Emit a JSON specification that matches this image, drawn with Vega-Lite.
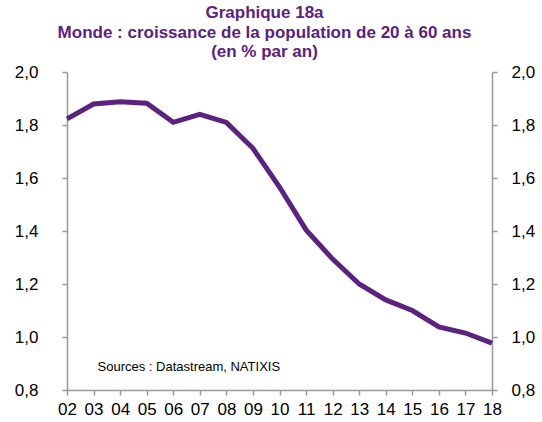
{
  "$schema": "https://vega.github.io/schema/vega-lite/v6.json",
  "width": 425,
  "height": 318,
  "autosize": "none",
  "padding": {"left": 67, "top": 72, "right": 50, "bottom": 32},
  "background": "white",
  "title": {
    "text": ["Graphique 18a", "Monde : croissance de la population de 20 à 60 ans", "(en % par an)"],
    "font": "Liberation Sans",
    "fontSize": 17,
    "fontWeight": "bold",
    "color": "#5B2280",
    "lineHeight": 19.5,
    "anchor": "middle",
    "dx": -15,
    "offset": 2
  },
  "config": {
    "view": {"stroke": null},
    "axis": {
      "grid": false,
      "domainColor": "#9a9a9a",
      "tickColor": "#9a9a9a",
      "domainWidth": 1.5,
      "tickWidth": 1.5,
      "tickSize": 5,
      "labelFont": "Liberation Sans",
      "labelFontSize": 17,
      "labelColor": "#000000",
      "title": null
    }
  },
  "data": {
    "values": [
      {"year": 2, "value": 1.823},
      {"year": 3, "value": 1.879},
      {"year": 4, "value": 1.888},
      {"year": 5, "value": 1.882},
      {"year": 6, "value": 1.810},
      {"year": 7, "value": 1.840},
      {"year": 8, "value": 1.810},
      {"year": 9, "value": 1.712},
      {"year": 10, "value": 1.566},
      {"year": 11, "value": 1.404},
      {"year": 12, "value": 1.294},
      {"year": 13, "value": 1.200},
      {"year": 14, "value": 1.140},
      {"year": 15, "value": 1.100},
      {"year": 16, "value": 1.038},
      {"year": 17, "value": 1.015},
      {"year": 18, "value": 0.977}
    ]
  },
  "encoding": {
    "x": {
      "field": "year", "type": "quantitative",
      "scale": {"domain": [2, 18], "nice": false, "zero": false},
      "axis": {
        "values": [2,3,4,5,6,7,8,9,10,11,12,13,14,15,16,17,18],
        "labelExpr": "datum.value < 10 ? '0' + datum.value : '' + datum.value",
        "labelPadding": 6,
        "labelFlush": false,
        "labelOverlap": false
      }
    }
  },
  "layer": [
    {
      "mark": {"type": "line", "color": "#5B2280", "strokeWidth": 5},
      "encoding": {
        "y": {
          "field": "value", "type": "quantitative",
          "scale": {"domain": [0.8, 2.0], "nice": false, "zero": false},
          "axis": {
            "orient": "left",
            "values": [0.8, 1.0, 1.2, 1.4, 1.6, 1.8, 2.0],
            "labelExpr": "replace(format(datum.value, '.1f'), '.', ',')",
            "labelPadding": 24,
            "labelFlush": false
          }
        }
      }
    },
    {
      "mark": {"type": "line", "strokeOpacity": 0},
      "encoding": {
        "y": {
          "field": "value", "type": "quantitative",
          "scale": {"domain": [0.8, 2.0], "nice": false, "zero": false},
          "axis": {
            "orient": "right",
            "values": [0.8, 1.0, 1.2, 1.4, 1.6, 1.8, 2.0],
            "labelExpr": "replace(format(datum.value, '.1f'), '.', ',')",
            "labelPadding": 14,
            "labelFlush": false
          }
        }
      }
    },
    {
      "data": {"values": [{"year": 3.15, "value": 0.885, "label": "Sources  : Datastream,  NATIXIS"}]},
      "mark": {"type": "text", "font": "Liberation Sans", "fontSize": 13, "align": "left", "baseline": "middle", "color": "#000000"},
      "encoding": {
        "y": {"field": "value", "type": "quantitative", "scale": {"domain": [0.8, 2.0], "nice": false, "zero": false}, "axis": null},
        "text": {"field": "label"}
      }
    }
  ],
  "resolve": {"scale": {"y": "independent"}}
}
